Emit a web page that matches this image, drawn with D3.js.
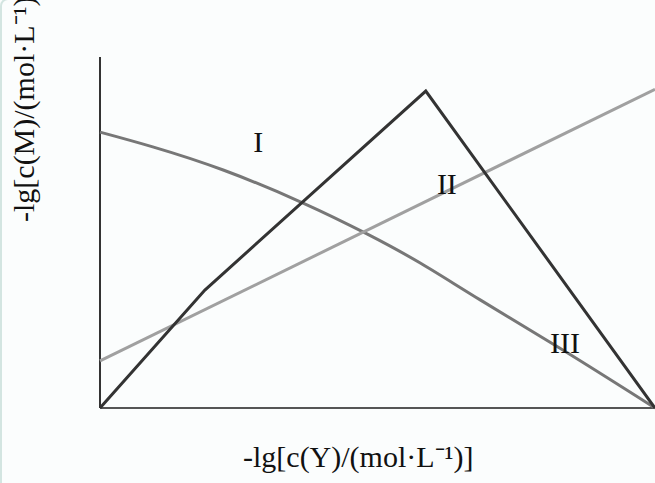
<!DOCTYPE html>
<html>
<head>
<meta charset="utf-8">
<script src="https://cdn.jsdelivr.net/npm/d3@7"></script>
<style>
  html, body { margin: 0; padding: 0; background: #fbfdfd; }
  svg { display: block; }
  text { font-family: "Liberation Serif", "Times New Roman", serif; fill: #111; }
</style>
</head>
<body>
<div id="chart"></div>
<script>

// values, arbitrary units 0..10 on both axes
var lineI   = [ [0, 0], [1.89, 3.36], [5.87, 9.03], [10, 0] ];          // dark broken line
var curveM  = [ [0, 7.86], [0.95, 7.44], [2.22, 6.78], [3.66, 5.84],
                [4.81, 4.96], [5.77, 4.13], [6.85, 3.08], [8.34, 1.65], [10, 0] ];
var lineL   = [ [0, 1.34], [10, 9.08] ];                                  // light straight line

var labels  = [ { t: 'I',   x: 2.85, y: 7.29 },
                { t: 'II',  x: 6.25, y: 6.10 },
                { t: 'III', x: 8.38, y: 1.57 } ];

var xTitle = '-lg[c(Y)/(mol\u00b7L\u207b\u00b9)]';
var yTitle = '-lg[c(M)/(mol\u00b7L\u207b\u00b9)]';

var width = 655, height = 483;
var margin = { left: 100, right: 0, top: 57, bottom: 75 };

var svg = d3.select('#chart').append('svg')
    .attr('width', width)
    .attr('height', height);

// faint card border on the left
svg.append('rect')
    .attr('x', 1).attr('y', -1)
    .attr('width', 800).attr('height', 800)
    .attr('rx', 7)
    .attr('fill', '#fbfdfd')
    .attr('stroke', '#d3e5e1')
    .attr('stroke-width', 2);

var x = d3.scaleLinear().domain([0, 10]).range([margin.left, width - margin.right]);
var y = d3.scaleLinear().domain([0, 10]).range([height - margin.bottom, margin.top]);

// axes: plain lines, no ticks
svg.append('line')
    .attr('x1', x(0)).attr('x2', x(0))
    .attr('y1', y(0)).attr('y2', y(10))
    .attr('stroke', '#333').attr('stroke-width', 2);

svg.append('line')
    .attr('x1', x(0)).attr('x2', x(10))
    .attr('y1', y(0)).attr('y2', y(0))
    .attr('stroke', '#555').attr('stroke-width', 2);

var line = d3.line()
    .x(function(d) { return x(d[0]); })
    .y(function(d) { return y(d[1]); });

var smooth = d3.line()
    .x(function(d) { return x(d[0]); })
    .y(function(d) { return y(d[1]); })
    .curve(d3.curveNatural);

svg.append('path').datum(curveM)
    .attr('d', smooth)
    .attr('fill', 'none')
    .attr('stroke', '#777')
    .attr('stroke-width', 3);

svg.append('path').datum(lineL)
    .attr('d', line)
    .attr('fill', 'none')
    .attr('stroke', '#a0a0a0')
    .attr('stroke-width', 3);

svg.append('path').datum(lineI)
    .attr('d', line)
    .attr('fill', 'none')
    .attr('stroke', '#333')
    .attr('stroke-width', 3)
    .attr('stroke-linejoin', 'miter');

svg.selectAll('.lbl')
    .data(labels)
    .enter().append('text')
    .attr('class', 'lbl')
    .attr('x', function(d) { return x(d.x); })
    .attr('y', function(d) { return y(d.y); })
    .attr('text-anchor', 'middle')
    .style('font-size', '30px')
    .text(function(d) { return d.t; });

svg.append('text')
    .attr('x', 243)
    .attr('y', 467)
    .style('font-size', '30px')
    .text(xTitle);

// the reference lets this title run off the top edge
svg.append('text')
    .attr('transform', 'translate(34,222) rotate(-90)')
    .style('font-size', '30px')
    .text(yTitle);

</script>
</body>
</html>
